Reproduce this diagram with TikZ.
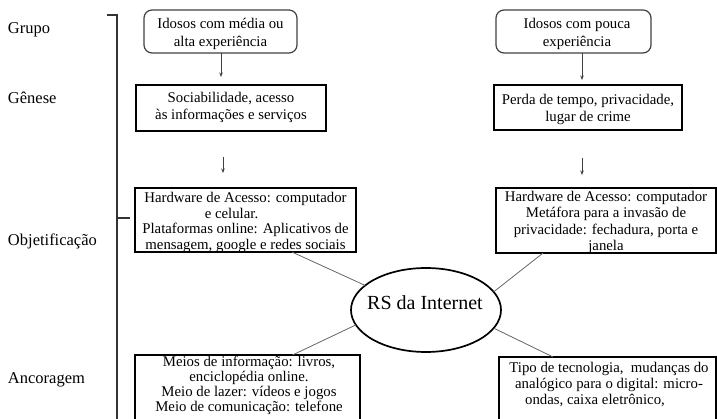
\documentclass[tikz,border=0pt]{standalone}
\usepackage{fontspec}
\setmainfont{Liberation Serif}
\usetikzlibrary{shapes.geometric,arrows.meta,calc}

\begin{document}
\begin{tikzpicture}[x=1pt,y=-1pt,
  every node/.style={inner sep=0pt, outer sep=0pt},
  frame/.style={draw=black, line width=1.7pt, rectangle},
  softframe/.style={draw=black!75, line width=1.2pt, rounded corners=8pt, rectangle},
  txt/.style={align=center, text=black},
  fs/.style={font=\fontsize{14.8}{#1}\selectfont},
  lbl/.style={anchor=west, font=\fontsize{16.5}{19}\selectfont, text=black},
  link/.style={draw=black!60, line width=0.8pt},
  arr/.style={draw=black!75, line width=0.9pt, -{Stealth[length=4.5pt,width=3.5pt]}},
  bracket/.style={draw=black!80, line width=1.4pt},
]
\useasboundingbox (0,0) rectangle (717,419);
\clip (0,0) rectangle (717,419);

% row labels
\node[lbl] (lgrupo) at (8,30) {Grupo};
\node[lbl] (lgenese) at (8,98) {Gênese};
\node[lbl] (lobj) at (8,241) {Objetificação};
\node[lbl] (lanc) at (8,380) {Ancoragem};

% bracket along the left
\coordinate (bk0) at (107,15);
\coordinate (bk1) at (117,15);
\coordinate (bk2) at (117,425);
\coordinate (bkm) at (117,218);
\coordinate (bkt) at (130,218);
\draw[bracket] (bk0) -- (bk1) -- (bk2);
\draw[bracket] (bkm) -- (bkt);

% group boxes
\node[softframe, minimum width=153pt, minimum height=43pt] (tl) at (220.5,31.5) {};
\node[txt, fs=18] (tlt) at (220.5,34) {Idosos com média ou\\alta experiência};
\node[softframe, minimum width=155pt, minimum height=43pt] (tr) at (573.5,31.5) {};
\node[txt, fs=18] (trt) at (577,33.5) {Idosos com pouca\\experiência};

% genesis boxes
\node[frame, minimum width=190pt, minimum height=46pt] (gl) at (231,108) {};
\node[txt, fs=17] (glt) at (231,107) {Sociabilidade, acesso\\às informações e serviços};
\node[frame, minimum width=188pt, minimum height=45pt] (gr) at (588,107.5) {};
\node[txt, fs=17] (grt) at (588,109) {Perda de tempo, privacidade,\\lugar de crime};

% objectification boxes
\node[frame, minimum width=221pt, minimum height=64pt] (ol) at (245.5,220) {};
\node[txt, fs=15.4] (olt) at (245.5,222.5) {Hardware de Acesso: computador\\e celular.\kern 28pt\\Plataformas online: Aplicativos de\\mensagem, google e redes sociais};
\node[frame, minimum width=220pt, minimum height=65pt] (or) at (606,220.5) {};
\node[txt, fs=16.6] (ort) at (606,222.5) {Hardware de Acesso: computador\\Metáfora para a invasão de\\privacidade: fechadura, porta e\\janela};

% anchoring boxes (running past the lower edge)
\node[frame, minimum width=225pt, minimum height=80pt] (al) at (247.5,395) {};
\node[txt, fs=15] (alt) at (249,385) {Meios de informação: livros,\\enciclopédia online.\\Meio de lazer: vídeos e jogos\\Meio de comunicação: telefone};
\node[frame, minimum width=217pt, minimum height=80pt] (ar) at (607.5,397) {};
\node[txt, fs=16] (art) at (609,384.5) {Tipo de tecnologia,\ \ mudanças do\\analógico para o digital: micro-\\ondas, caixa eletrônico,\kern 28pt};

% central representation
\node[ellipse, draw=black, line width=1.7pt, minimum width=150pt, minimum height=84pt] (el) at (426,310) {};
\node[anchor=base, font=\fontsize{20}{24}\selectfont, text=black] (elt) at (425,310) {RS da Internet};

% arrows
\coordinate (a1) at (221,77);
\draw[arr] (tl.south -| a1) -- (a1);
\coordinate (a2) at (223,157);
\coordinate (a3) at (223,173);
\draw[arr] (a2) -- (a3);
\coordinate (b1) at (582,80);
\draw[arr] (tr.south -| b1) -- (b1);
\coordinate (b2) at (582,158);
\coordinate (b3) at (582,175);
\draw[arr] (b2) -- (b3);

% links to the central ellipse
\draw[link] ($(ol.south west)!0.71!(ol.south east)$) -- (el.158);
\draw[link] ($(or.south west)!0.214!(or.south east)$) -- (el.15);
\draw[link] ($(al.north west)!0.70!(al.north east)$) -- (el.192);
\draw[link] ($(ar.north west)!0.249!(ar.north east)$) -- (el.345);
\end{tikzpicture}
\end{document}
